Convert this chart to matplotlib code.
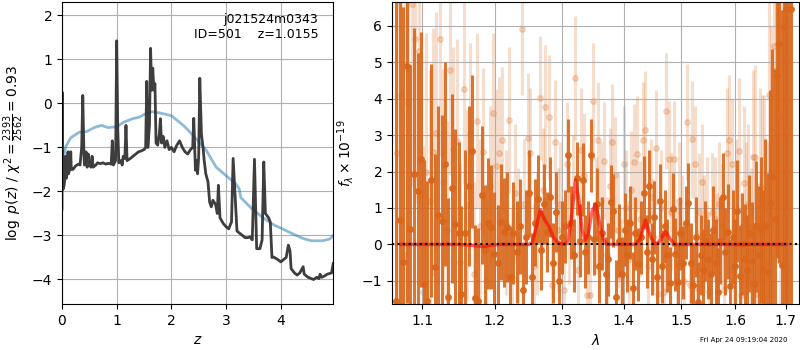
import numpy as np
import matplotlib
matplotlib.use('Agg')
import matplotlib.pyplot as plt
from matplotlib.ticker import FixedLocator, NullLocator, FormatStrFormatter

# ---- left panel: redshift probability ----
z_pz = [0.000, 0.005, 0.012, 0.02, 0.04, 0.06, 0.07, 0.08, 0.10, 0.11, 0.12, 0.15, 0.16, 0.17,
        0.20, 0.25, 0.30, 0.33, 0.36, 0.38, 0.40, 0.41, 0.44, 0.46, 0.48, 0.50, 0.53, 0.55, 0.57,
        0.62, 0.65, 0.70, 0.75, 0.80, 0.85, 0.90, 0.92, 0.94, 0.98, 1.00, 1.02, 1.04, 1.08, 1.10,
        1.12, 1.15, 1.17, 1.19, 1.25, 1.30, 1.35, 1.40, 1.45, 1.50, 1.53, 1.55, 1.57, 1.60, 1.62,
        1.64, 1.66, 1.68, 1.70, 1.72, 1.75, 1.78, 1.80, 1.82, 1.85, 1.88, 1.92, 1.96, 2.00, 2.05,
        2.10, 2.15, 2.20, 2.25, 2.30, 2.35, 2.39, 2.41, 2.44, 2.46, 2.48, 2.50, 2.52, 2.55, 2.58,
        2.60, 2.63, 2.67, 2.70, 2.73, 2.76, 2.81, 2.84, 2.86, 2.89, 2.95, 3.00, 3.05, 3.08, 3.10,
        3.13, 3.20, 3.25, 3.30, 3.35, 3.40, 3.44, 3.48, 3.52, 3.56, 3.62, 3.66, 3.69, 3.72, 3.75,
        3.78, 3.81, 3.84, 3.87, 3.95, 4.00, 4.05, 4.10, 4.14, 4.17, 4.19, 4.25, 4.30, 4.35, 4.41,
        4.43, 4.50, 4.60, 4.66, 4.70, 4.72, 4.75, 4.80, 4.85, 4.90, 4.93, 4.96]
log_pz = [-2.40, 0.25, -1.0, -1.95, -1.85, -1.6, -1.2, -1.7, -1.5, -1.1, -1.6, -1.45, -1.1, -1.5,
          -1.5, -1.42, -1.38, -1.4, -1.0, 0.18, -1.1, -1.4, -1.1, -1.45, -1.15, -1.4, -1.45, -1.2, -1.45,
          -1.4, -1.35, -1.37, -1.35, -1.38, -1.36, -1.38, -0.85, -1.4, -1.3, 1.42, -0.6, -1.35, -1.3, -1.4,
          -1.2, -1.25, -0.5, -1.3, -1.25, -1.2, -1.15, -1.1, -1.08, -1.05, -1.0, 0.5, -1.0, -0.5, 1.25,
          0.3, 0.8, 0.3, 0.45, -0.9, -0.95, -0.7, -0.35, -0.9, -0.75, -1.0, -0.85, -1.05, -1.0, -1.1,
          -0.95, -0.85, -1.0, -1.1, -1.15, -1.05, -1.0, -0.34, -1.52, -1.3, -1.6, -1.2, 0.57, -0.7, -1.0,
          -1.29, -1.6, -1.78, -2.24, -2.35, -2.2, -2.3, -2.5, -1.86, -2.6, -2.73, -2.8, -2.85, -2.75, -2.7,
          -1.25, -2.9, -2.95, -3.0, -3.05, -3.05, -3.03, -3.1, -1.27, -3.3, -3.3, -3.1, -1.33, -2.5, -2.55,
          -2.6, -2.7, -3.5, -3.49, -3.55, -3.6, -3.55, -3.5, -3.22, -3.35, -3.75, -3.85, -3.9, -3.85, -3.71,
          -3.88, -3.95, -4.0, -3.95, -3.98, -3.88, -3.95, -3.92, -3.88, -3.86, -3.85, -3.64]

z_prior = [0.0, 0.03, 0.07, 0.16, 0.31, 0.45, 0.59, 0.72, 0.84, 1.0, 1.14, 1.29, 1.42, 1.55, 1.65,
           1.80, 2.0, 2.22, 2.4, 2.64, 2.82, 3.0, 3.18, 3.24, 3.27, 3.48, 3.67, 3.86, 4.05, 4.23,
           4.41, 4.56, 4.77, 4.9, 4.96]
log_prior = [-1.67, -1.2, -0.98, -0.78, -0.66, -0.64, -0.55, -0.5, -0.55, -0.53, -0.42, -0.35, -0.31,
             -0.22, -0.19, -0.22, -0.28, -0.5, -0.73, -1.07, -1.45, -1.64, -1.83, -1.94, -2.14, -2.4,
             -2.59, -2.75, -2.86, -2.97, -3.07, -3.12, -3.12, -3.08, -3.0]

# ---- right panel: spectrum ----
wave_a = [1.066, 1.071, 1.075, 1.080, 1.084, 1.089, 1.094, 1.098, 1.103, 1.107,
          1.112, 1.117, 1.121, 1.126, 1.130, 1.135, 1.140, 1.144, 1.149, 1.153,
          1.158, 1.163, 1.167, 1.172, 1.176, 1.181, 1.186, 1.190, 1.195, 1.199,
          1.204, 1.209, 1.213, 1.218, 1.222, 1.227, 1.232, 1.236, 1.241, 1.245,
          1.250, 1.255, 1.259, 1.264, 1.268, 1.273, 1.278, 1.282, 1.287, 1.291,
          1.296, 1.301, 1.305, 1.310, 1.314, 1.319, 1.324, 1.328, 1.333, 1.337,
          1.342, 1.347, 1.351, 1.356, 1.360, 1.365, 1.370, 1.374, 1.379, 1.383,
          1.388, 1.393, 1.397, 1.402, 1.406, 1.411, 1.416, 1.420, 1.425, 1.429,
          1.434, 1.439, 1.443, 1.448, 1.452, 1.457, 1.462, 1.466, 1.471, 1.475,
          1.480, 1.485, 1.489, 1.494, 1.498, 1.503, 1.508, 1.512, 1.517, 1.521,
          1.526, 1.531, 1.535, 1.540, 1.544, 1.549, 1.554, 1.558, 1.563, 1.567,
          1.572, 1.577, 1.581, 1.586, 1.590, 1.595, 1.600, 1.604, 1.609, 1.613,
          1.618, 1.623, 1.627, 1.632, 1.636, 1.641, 1.646, 1.650, 1.655, 1.659,
          1.664, 1.669, 1.673, 1.678, 1.682, 1.687, 1.692, 1.696, 1.701, 1.705, 1.710]
flux_a = [-1.56, 0.67, -0.48, 4.90, 0.42, 1.93, 1.46, 2.34, -1.09, -1.56,
          1.76, -0.61, 0.80, 0.65, 2.20, -1.44, 1.54, 0.56, 0.30, -1.35,
          0.30, 1.61, 2.56, -1.48, -1.56, 1.35, -0.16, 0.58, 0.47, -0.27,
          -0.52, 0.62, 0.33, 0.48, -0.90, 0.30, -0.20, 0.50, -1.25, 0.20,
          1.40, -0.89, 0.60, 1.24, -0.16, 1.10, 0.33, 1.31, -0.50, 0.90,
          -1.00, 0.20, 0.50, 2.45, 0.60, -0.30, 1.81, 0.10, 1.77, -0.20,
          0.20, 2.45, 0.15, 1.10, -0.60, 0.30, -0.80, -0.41, 1.17, 0.92,
          -1.44, 0.10, -0.80, 0.40, -0.30, 0.60, -1.20, 0.30, -0.55, 0.20,
          1.42, -0.20, 1.60, -0.40, 0.74, -0.90, 1.20, -0.60, 0.50, -0.30,
          -1.07, 0.96, -0.27, -1.03, 0.30, -0.50, 0.60, 1.14, -0.52, -1.12,
          0.20, -1.57, -0.30, -0.69, 0.10, -0.40, -0.80, 0.40, -0.50, -1.30,
          0.10, 1.31, -0.20, 0.35, -1.15, 0.20, -0.60, 0.92, -0.87, 0.00,
          -0.40, -0.70, 0.30, -0.45, -1.10, 0.50, -0.30, 0.39, -0.70, 0.50,
          -0.75, 1.13, 1.86, 0.71, 4.62, 5.49, -0.57, 5.97, 6.45, 8.00, 6.45]
err_a = [9.0, 8.0, 7.0, 6.5, 4.5, 4.0, 3.8, 3.5, 3.4, 3.3,
         3.2, 3.1, 3.0, 2.9, 2.8, 2.7, 2.6, 2.6, 2.5, 2.4,
         2.3, 2.2, 2.1, 2.0, 2.0, 1.9, 1.8, 1.8, 1.7, 1.7,
         1.6, 1.6, 1.5, 1.5, 1.4, 1.4, 1.4, 1.3, 1.3, 1.3,
         1.2, 1.2, 1.2, 1.2, 1.1, 1.1, 1.1, 1.1, 1.1, 1.1,
         1.1, 1.0, 1.0, 1.0, 1.0, 1.0, 1.0, 1.0, 1.0, 1.0,
         1.0, 1.0, 1.0, 1.0, 1.0, 1.0, 1.0, 1.0, 1.0, 1.0,
         1.0, 1.0, 1.0, 1.0, 1.0, 1.0, 1.0, 1.0, 1.0, 1.0,
         1.0, 1.0, 1.0, 1.0, 1.0, 1.0, 1.0, 1.0, 1.0, 1.0,
         1.0, 1.0, 1.0, 1.0, 1.0, 1.0, 1.0, 1.1, 1.1, 1.1,
         1.1, 1.1, 1.1, 1.1, 1.1, 1.1, 1.1, 1.2, 1.2, 1.2,
         1.2, 1.2, 1.2, 1.3, 1.3, 1.3, 1.3, 1.4, 1.4, 1.4,
         1.5, 1.5, 1.6, 1.6, 1.7, 1.8, 1.9, 2.0, 2.2, 2.4,
         2.7, 3.1, 3.5, 4.1, 5.0, 6.0, 7.0, 8.0, 9.0, 10.0, 11.0]

wave_b = [1.068, 1.073, 1.078, 1.082, 1.087, 1.091, 1.096, 1.101, 1.105, 1.110,
          1.114, 1.119, 1.124, 1.128, 1.133, 1.137, 1.142, 1.147, 1.151, 1.156,
          1.160, 1.165, 1.170, 1.174, 1.179, 1.183, 1.188, 1.193, 1.197, 1.202,
          1.206, 1.211, 1.216, 1.220, 1.225, 1.229, 1.234, 1.239, 1.243, 1.248,
          1.252, 1.257, 1.262, 1.266, 1.271, 1.275, 1.280, 1.285, 1.289, 1.294,
          1.298, 1.303, 1.308, 1.312, 1.317, 1.321, 1.326, 1.331, 1.335, 1.340,
          1.344, 1.349, 1.354, 1.358, 1.363, 1.367, 1.372, 1.377, 1.381, 1.386,
          1.390, 1.395, 1.400, 1.404, 1.409, 1.413, 1.418, 1.423, 1.427, 1.432,
          1.436, 1.441, 1.446, 1.450, 1.455, 1.459, 1.464, 1.469, 1.473, 1.478,
          1.482, 1.487, 1.492, 1.496, 1.501, 1.505, 1.510, 1.515, 1.519, 1.524,
          1.528, 1.533, 1.538, 1.542, 1.547, 1.551, 1.556, 1.561, 1.565, 1.570,
          1.574, 1.579, 1.584, 1.588, 1.593, 1.597, 1.602, 1.607, 1.611, 1.616,
          1.620, 1.625, 1.630, 1.634, 1.639, 1.643, 1.648, 1.653, 1.657, 1.662,
          1.666, 1.671, 1.676, 1.680, 1.685, 1.689, 1.694, 1.699, 1.703, 1.708]
flux_b = [2.50, 4.10, -0.29, 3.87, 6.60, 5.63, 5.31, -1.30, 2.00, 1.20,
          2.54, 3.07, 5.63, 1.72, 0.39, 4.80, 2.63, 2.84, -0.47, 4.26,
          1.08, 3.02, -0.80, 3.39, 0.50, 2.53, -1.00, 1.60, 3.60, 2.16,
          2.50, 2.86, 0.60, 3.41, -0.90, 1.40, 0.20, 5.90, 1.10, 2.91,
          2.50, -0.60, 0.30, 4.03, 1.50, 3.76, 3.49, -1.12, 2.82, 0.40,
          1.10, -1.25, 2.20, 0.60, 1.30, 4.56, -0.70, 2.59, 1.90, -1.39,
          -1.39, 3.93, 0.80, 2.86, 1.20, 2.30, -0.30, 1.60, 2.80, 1.90,
          0.40, -0.90, 2.20, 1.00, -0.40, 1.50, 2.25, 2.48, 0.70, 2.86,
          3.15, -0.60, 1.30, 0.20, 2.65, -1.35, 1.00, -1.30, 3.66, 2.34,
          0.90, 2.34, -0.50, 1.20, 0.30, -1.00, 3.36, -1.12, 2.88, 2.20,
          -1.20, 0.90, 1.70, 0.30, 0.80, -1.30, 0.90, 0.70, -0.30, 1.10,
          0.50, -1.25, 2.50, 2.86, 2.20, -0.60, 1.00, 2.57, -1.40, 1.69,
          0.70, 1.10, -0.20, 2.40, 2.41, -1.35, 1.60, 1.20, 1.00, -0.50,
          4.10, 2.00, 5.44, 4.80, 5.50, 3.50, 7.00, 6.00, 7.50, 8.00]
err_b = [9.0, 8.0, 7.0, 6.0, 5.0, 4.5, 4.2, 4.0, 3.8, 3.6,
         3.4, 3.3, 3.2, 3.1, 3.0, 2.9, 2.8, 2.8, 2.7, 2.6,
         2.6, 2.5, 2.5, 2.4, 2.4, 2.3, 2.3, 2.2, 2.2, 2.1,
         2.1, 2.0, 2.0, 2.0, 1.9, 1.9, 1.9, 1.8, 1.8, 1.8,
         1.8, 1.7, 1.7, 1.7, 1.7, 1.7, 1.7, 1.7, 1.7, 1.7,
         1.7, 1.7, 1.7, 1.7, 1.7, 1.7, 1.7, 1.7, 1.7, 1.7,
         1.6, 1.6, 1.6, 1.6, 1.6, 1.6, 1.6, 1.6, 1.6, 1.6,
         1.6, 1.6, 1.6, 1.6, 1.6, 1.6, 1.6, 1.6, 1.6, 1.6,
         1.6, 1.6, 1.6, 1.6, 1.6, 1.6, 1.6, 1.6, 1.6, 1.6,
         1.6, 1.6, 1.6, 1.6, 1.6, 1.6, 1.6, 1.6, 1.6, 1.6,
         1.6, 1.6, 1.6, 1.6, 1.6, 1.6, 1.6, 1.7, 1.7, 1.7,
         1.7, 1.7, 1.8, 1.8, 1.8, 1.9, 1.9, 2.0, 2.0, 2.1,
         2.1, 2.2, 2.3, 2.4, 2.5, 2.6, 2.7, 2.9, 3.1, 3.3,
         3.6, 4.0, 4.5, 5.0, 6.0, 7.0, 8.0, 9.0, 10.0, 11.0]

wave_model = [1.073, 1.150, 1.170, 1.183, 1.195, 1.210, 1.250, 1.255, 1.260, 1.267, 1.273,
              1.280, 1.287, 1.295, 1.305, 1.310, 1.315, 1.3215, 1.327, 1.332, 1.337, 1.342,
              1.348, 1.354, 1.360, 1.366, 1.372, 1.420, 1.428, 1.437, 1.445, 1.452, 1.458,
              1.464, 1.472, 1.480, 1.488, 1.700]
flux_model = [0.0, 0.0, -0.03, -0.06, -0.02, 0.0, 0.0, 0.05, 0.4, 0.95, 0.7,
              0.5, 0.2, 0.03, 0.0, 0.1, 0.7, 1.76, 1.2, 0.4, 0.12, 0.3,
              0.9, 1.1, 0.6, 0.15, 0.0, 0.0, 0.15, 0.67, 0.25, 0.02, 0.02,
              0.15, 0.35, 0.15, 0.0, 0.0]

root = 'j021524m0343'
obj_id = 501
z_best = 1.0155
chi2, dof = 2393, 2562
timestamp = 'Fri Apr 24 09:19:04 2020'

fig = plt.figure(figsize=(8, 3.5), dpi=100)
ax1 = fig.add_axes([0.0775, 0.131, 0.339, 0.863])
ax2 = fig.add_axes([0.49, 0.131, 0.50875, 0.863])

# p(z)
ax1.plot(z_prior, log_prior, color='tab:blue', alpha=0.5, lw=2)
ax1.plot(z_pz, log_pz, color='0.2', alpha=0.95, lw=2)
ax1.set_xlim(0, 4.96)
ax1.set_ylim(-4.56, 2.3)
ax1.set_xticks([0, 1, 2, 3, 4])
ax1.set_yticks([-4, -3, -2, -1, 0, 1, 2])
ax1.grid()
ax1.set_xlabel(r'$z$')
ax1.set_ylabel(r'$\log\ p(z)$' + ' / ' +
               r'$\chi^2=\frac{{{0}}}{{{1}}}={2:.2f}$'.format(chi2, dof, chi2 / dof))
ax1.text(0.945, 0.965, '{0}\nID={1:<5d}  z={2:.4f}'.format(root, obj_id, z_best),
         ha='right', va='top', transform=ax1.transAxes, fontsize=9)

# spectrum
orange = '#d9661a'
ax2.errorbar(wave_b, flux_b, yerr=err_b, fmt='o', color=orange, ecolor=orange,
             alpha=0.22, ms=4, lw=2.2, zorder=1)
ax2.errorbar(wave_a, flux_a, yerr=err_a, fmt='o', color=orange, ecolor=orange,
             alpha=0.9, ms=4, lw=2.2, zorder=2)
ax2.plot(wave_model, flux_model, color='r', alpha=0.6, lw=2.5, zorder=3)
ax2.axhline(0, color='k', linestyle=':', lw=1.5, zorder=4)

ax2.set_xscale('log')
ax2.set_xlim(1.061, 1.727)
ax2.set_ylim(-1.64, 6.65)
ax2.xaxis.set_major_locator(FixedLocator([1.1, 1.2, 1.3, 1.4, 1.5, 1.6, 1.7]))
ax2.xaxis.set_major_formatter(FormatStrFormatter('%.1f'))
ax2.xaxis.set_minor_locator(NullLocator())
ax2.set_yticks([-1, 0, 1, 2, 3, 4, 5, 6])
ax2.grid()
ax2.set_xlabel(r'$\lambda$')
ax2.set_ylabel(r'$f_\lambda\times10^{-19}$')

fig.text(0.985, 0.02, timestamp, ha='right', va='bottom', fontsize=5)

fig.savefig('out.png', dpi=100)
